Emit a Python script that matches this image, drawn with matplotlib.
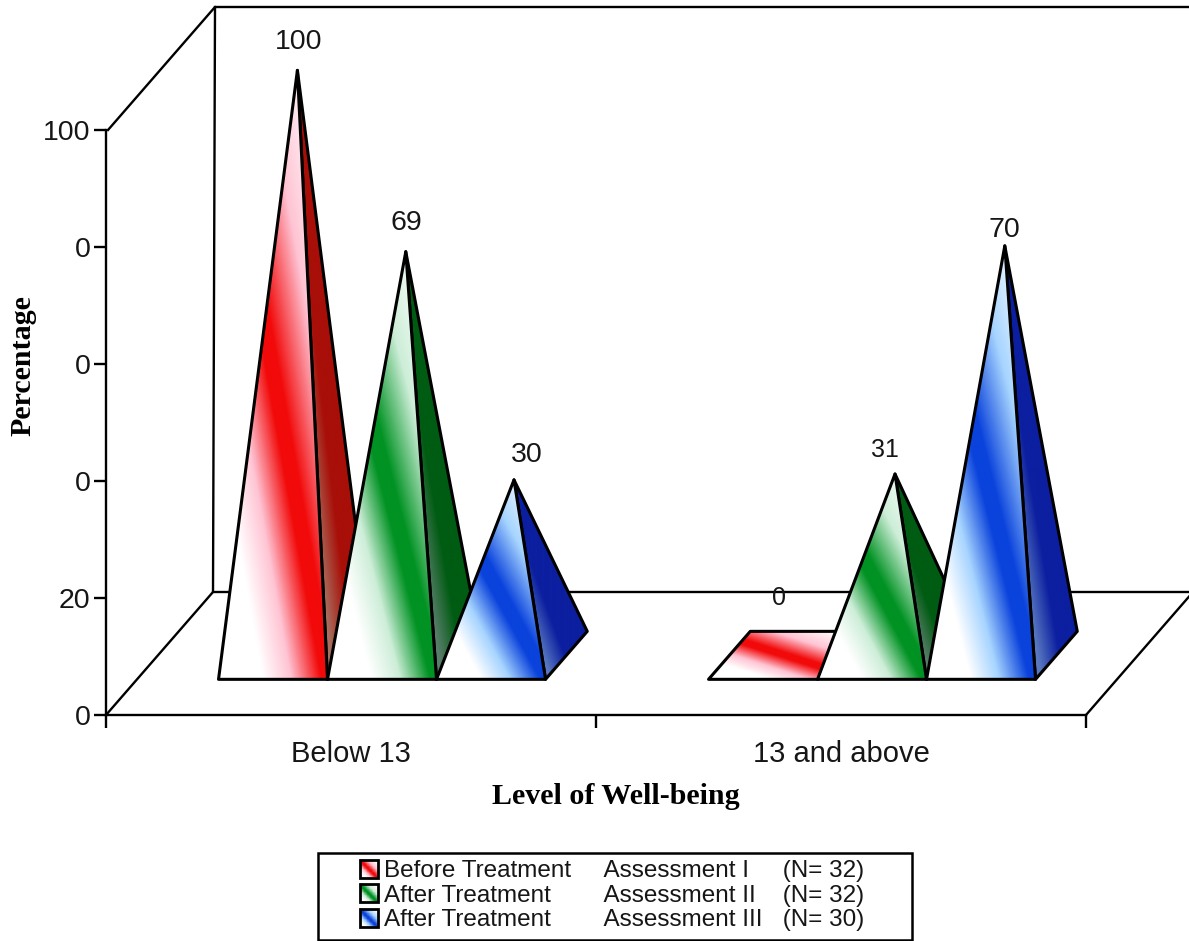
import matplotlib
matplotlib.use('Agg')
import matplotlib.pyplot as plt
import numpy as np
from matplotlib.collections import PolyCollection
from matplotlib.colors import LinearSegmentedColormap
from matplotlib.legend_handler import HandlerBase
from matplotlib.patches import Patch, Polygon, Rectangle

categories = ['Below 13', '13 and above']
assessment_1 = [100, 0]
assessment_2 = [69, 31]
assessment_3 = [30, 70]
y_ticks = [0, 20, 40, 60, 80, 100]
y_tick_labels = ['0', '20', '0', '0', '0', '100']
legend_labels = [
    'Before Treatment     Assessment I     (N= 32)',
    'After Treatment        Assessment II    (N= 32)',
    'After Treatment        Assessment III   (N= 30)',
]

W, H = 1189, 941
PX_X = 490.0   # pixels per category
PX_Y = 5.85    # pixels per percent
DEPTH_X = 107 / PX_X
DEPTH_Y = 123 / PX_Y
LEAN = (2 / PX_X) / 100
BAR_W = 109 / PX_X
FRONT, BACK = 0.29, 0.68
MID = (FRONT + BACK) / 2
APEX_X = 1.5 / PX_X


def project(x, v, d):
    return (x + d * DEPTH_X + v * LEAN, v + d * DEPTH_Y)


def face_cmap(full, pale):
    stops = [(0, 'white'), (0.2, 'white'), (0.33, pale), (0.47, full), (0.53, full),
             (0.71, pale), (0.92, 'white'), (1, 'white')]
    return LinearSegmentedColormap.from_list('face', stops)


def side_cmap(dark, tint):
    return LinearSegmentedColormap.from_list(
        'side', [(0, tint), (0.25, tint), (0.4, dark), (1, dark)])


front_cmaps = [face_cmap('#f20a0a', '#ffc4d4'),
               face_cmap('#009222', '#cdeed8'),
               face_cmap('#0a42dc', '#a6d4ff')]
side_cmaps = [side_cmap('#a80f08', '#a87060'),
              side_cmap('#005c12', '#5a7e6c'),
              side_cmap('#0c1fa0', '#5878c0')]

fig = plt.figure(figsize=(W / 100, H / 100), dpi=100)
ax = fig.add_axes([0, 0, 1, 1])
ax.set_autoscale_on(False)
ax.set_xlim(-106 / PX_X, (W - 106) / PX_X)
ax.set_ylim(-(H - 715) / PX_Y, 715 / PX_Y)

z = [5]


def gradient_face(pts, cmap):
    # diagonal gradient over the bounding box, clipped to the face
    pts = np.array(pts)
    x0, x1 = pts[:, 0].min(), pts[:, 0].max()
    y0, y1 = pts[:, 1].min(), pts[:, 1].max()
    u, v = np.meshgrid(np.linspace(0, 1, 200), np.linspace(0, 1, 400))
    im = ax.imshow(u - v, cmap=cmap, vmin=-1, vmax=1, extent=(x0, x1, y0, y1),
                   aspect='auto', origin='upper', interpolation='bilinear', zorder=z[0])
    im.set_clip_path(Polygon(pts, transform=ax.transData))
    ax.add_patch(Polygon(pts, closed=True, fill=False, ec='black', lw=2.2,
                         joinstyle='round', zorder=z[0] + 0.5))
    z[0] += 1


def draw_pyramid(center, value, i):
    left, right = center - BAR_W / 2, center + BAR_W / 2
    fl = project(left, 0, FRONT)
    fr = project(right, 0, FRONT)
    bl = project(left, 0, BACK)
    br = project(right, 0, BACK)
    if value == 0:
        gradient_face([fl, fr, br, bl], front_cmaps[i])
        return
    top = project(center + APEX_X, value, MID)
    gradient_face([fr, br, top], side_cmaps[i])
    gradient_face([fl, fr, top], front_cmaps[i])


# walls and floor of the chart box
wall_kw = dict(color='black', lw=1.7, zorder=2)
ax.plot(*zip(project(0, 100, 0), project(0, 100, 1), project(2.05, 100, 1)), **wall_kw)
ax.plot(*zip(project(0, 100, 1), project(0, 0, 1), project(2.05, 0, 1)), **wall_kw)
ax.plot(*zip(project(0, 0, 0), project(0, 0, 1)), **wall_kw)
ax.plot(*zip(project(2, 0, 0), project(2, 0, 1)), **wall_kw)

for spine in ['top', 'right']:
    ax.spines[spine].set_visible(False)
ax.spines['left'].set_position(('data', 0))
ax.spines['left'].set_bounds(0, 100)
ax.spines['bottom'].set_position(('data', 0))
ax.spines['bottom'].set_bounds(0, 2)
ax.spines['left'].set_linewidth(1.7)
ax.spines['bottom'].set_linewidth(1.7)

sans = 'Liberation Sans'
serif = 'Liberation Serif'
ax.set_yticks(y_ticks)
ax.set_yticklabels(y_tick_labels, fontsize=20.5, family=sans, color='#161616')
ax.tick_params(axis='y', direction='out', length=9, width=1.7, pad=2)
ax.set_xticks([0, 1, 2])
ax.set_xticklabels([])
ax.tick_params(axis='x', which='major', direction='out', length=9, width=1.7)
ax.set_xticks([0.5, 1.5], labels=categories, minor=True, fontsize=21, family=sans, color='#161616')
ax.tick_params(axis='x', which='minor', length=0, pad=18)

series = [assessment_1, assessment_2, assessment_3]
offsets = [-BAR_W, 0, BAR_W]

# pixel nudges of the value labels from each mark's tip, with their font sizes
nudges = {(0, 0): (1, 28), (0, 1): (1, 29), (0, 2): (13, 25),
          (1, 0): (-6, 57), (1, 1): (-10, 24), (1, 2): (0, 16)}
label_sizes = {(1, 0): 18, (1, 1): 18}

for c in range(len(categories)):
    for i, values in enumerate(series):
        center = c + 0.5 + offsets[i]
        draw_pyramid(center, values[c], i)
for c in range(len(categories)):
    for i, values in enumerate(series):
        center = c + 0.5 + offsets[i]
        dx, dy = nudges[(c, i)]
        ax.annotate(str(values[c]), project(center + APEX_X, values[c], MID),
                    xytext=(dx * 0.72, dy * 0.72), textcoords='offset points',
                    ha='center', va='center', family=sans, color='#161616',
                    fontsize=label_sizes.get((c, i), 20.5), zorder=50)

fig.text(616 / W, 1 - 796 / H, 'Level of Well-being', ha='center', va='center',
         family=serif, weight='bold', fontsize=21.6)
fig.text(23 / W, 1 - 366 / H, 'Percentage', ha='center', va='center', rotation=90,
         family=serif, weight='bold', fontsize=21.6)


class SwatchHandler(HandlerBase):
    def __init__(self, cmap):
        super().__init__()
        self.cmap = cmap

    def create_artists(self, legend, orig_handle, xdescent, ydescent, width, height, fontsize, trans):
        n = 24
        side = width
        x0 = -xdescent
        y0 = -ydescent + (height - side) / 2
        step = side / n
        cells, vals = [], []
        for a in range(n):
            for b in range(n):
                cx, cy = x0 + a * step, y0 + b * step
                cells.append([(cx, cy), (cx + step, cy), (cx + step, cy + step), (cx, cy + step)])
                vals.append((a + 0.5) / n - (1 - (b + 0.5) / n))
        coll = PolyCollection(cells, array=np.array(vals), cmap=self.cmap, clim=(-1, 1),
                              edgecolors='face', linewidths=0.3, transform=trans)
        box = Rectangle((x0, y0), side, side, fill=False, ec='black', lw=2, transform=trans)
        return [coll, box]


handles = [Patch(label=t) for t in legend_labels]
legend = ax.legend(handles=handles, loc='upper left', frameon=False,
                   prop={'family': sans, 'size': 17.5},
                   bbox_to_anchor=(360 / W, 1 - 860 / H), bbox_transform=fig.transFigure,
                   borderpad=0, borderaxespad=0, handlelength=0.74, handletextpad=0.24,
                   labelspacing=0.11,
                   handler_map={h: SwatchHandler(cm) for h, cm in zip(handles, front_cmaps)})
legend.set_zorder(60)
for t in legend.get_texts():
    t.set_color('#161616')
fig.add_artist(Rectangle((318 / W, 1 - 940 / H), (912 - 318) / W, (940 - 853) / H, fill=False,
                         ec='black', lw=1.8, transform=fig.transFigure))

fig.savefig('out.png', dpi=100)
